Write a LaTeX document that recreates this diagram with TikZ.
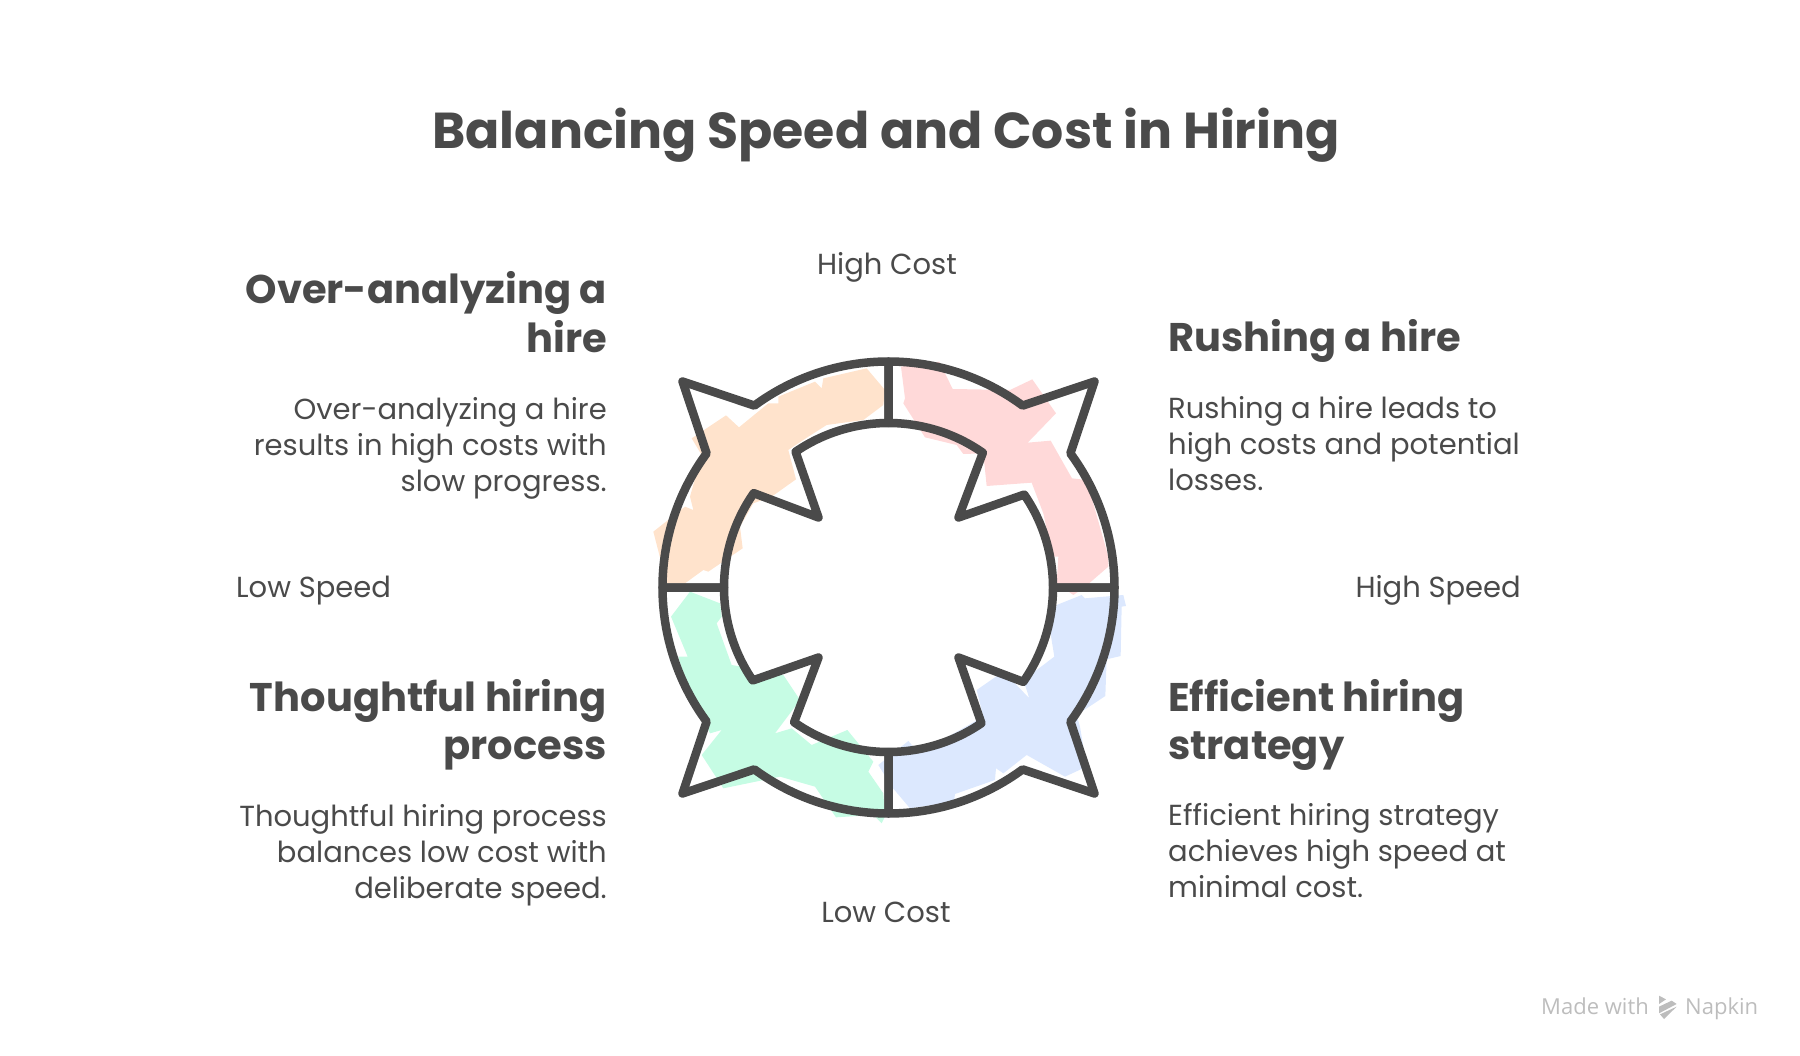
\documentclass[tikz,border=0pt]{standalone}
\usepackage{fontspec}
\setmainfont{Poppins}
\newfontfamily\markfont{Open Sans}
\definecolor{ringgrey}{HTML}{4A4A4A}
\definecolor{peachfill}{HTML}{FFE3CC}
\definecolor{pinkfill}{HTML}{FFD9D9}
\definecolor{bluefill}{HTML}{DCE8FE}
\definecolor{greenfill}{HTML}{C6FCE4}
\definecolor{markgrey}{HTML}{BDBDBD}
\tikzset{
  titletext/.style={inner sep=0pt, text=ringgrey, font=\fontsize{50.5}{56}\selectfont\bfseries},
  headleft/.style={inner sep=0pt, anchor=east, align=right, text=ringgrey, font=\fontsize{40}{48.5}\selectfont\bfseries},
  headright/.style={inner sep=0pt, anchor=west, align=left, text=ringgrey, font=\fontsize{40}{48.5}\selectfont\bfseries},
  bodyleft/.style={inner sep=0pt, anchor=east, align=right, text=ringgrey, font=\fontsize{29}{36}\selectfont},
  bodyright/.style={inner sep=0pt, anchor=west, align=left, text=ringgrey, font=\fontsize{29}{36}\selectfont},
  axistext/.style={inner sep=0pt, text=ringgrey, font=\fontsize{29}{36}\selectfont},
  marktext/.style={inner sep=0pt, anchor=base west, text=markgrey, font=\fontsize{22}{28}\markfont},
  ringline/.style={draw=ringgrey, line width=8.5pt, line join=round, line cap=round},
  zoomed/.style={shift={(640,-340)}, xscale=0.33333, yscale=-0.33333},
}
\begin{document}
\begin{tikzpicture}[x=1pt, y=1pt]
\useasboundingbox (0,0) rectangle (1800,-1056) ;

\begin{scope}[zoomed]
\fill[peachfill] (80,730) -- (40,575) -- (135,500) -- (160,510) -- (150,470) -- (185,345) -- (155,295) -- (258,226) -- (297,262) -- (385,190) -- (415,190) -- (415,170) -- (525,125) -- (545,145) -- (550,115) -- (680,85) -- (735,150) -- (730,195) -- (670,240) -- (560,255) -- (505,290) -- (445,330) -- (468,418) -- (395,470) -- (340,490) -- (300,560) -- (308,625) -- (205,695) -- (190,690) -- (135,730) -- cycle ;
\fill[pinkfill] (783,80) -- (898,65) -- (938,147) -- (1110,150) -- (1177,118) -- (1248,220) -- (1163,308) -- (1232,302) -- (1296,415) -- (1340,420) -- (1405,650) -- (1405,680) -- (1330,745) -- (1300,765) -- (1250,730) -- (1255,650) -- (1238,650) -- (1210,520) -- (1175,428) -- (1040,438) -- (1030,340) -- (970,342) -- (950,315) -- (855,292) -- (790,190) -- (795,175) -- cycle ;
\fill[bluefill] (1250,795) -- (1325,765) -- (1335,775) -- (1450,765) -- (1458,798) -- (1445,800) -- (1442,948) -- (1400,958) -- (1396,1068) -- (1310,1125) -- (1320,1160) -- (1340,1280) -- (1275,1310) -- (1160,1245) -- (1090,1300) -- (1068,1285) -- (1065,1320) -- (945,1362) -- (942,1385) -- (810,1405) -- (755,1340) -- (715,1275) -- (805,1203) -- (820,1220) -- (880,1215) -- (1030,1130) -- (1010,1050) -- (1075,1005) -- (1120,1025) -- (1168,1075) -- (1150,1020) -- (1243,950) -- (1230,870) -- cycle ;
\fill[greenfill] (150,755) -- (240,790) -- (245,830) -- (230,850) -- (275,975) -- (305,980) -- (340,1010) -- (430,1005) -- (480,1080) -- (405,1180) -- (455,1165) -- (515,1215) -- (622,1170) -- (700,1265) -- (685,1295) -- (730,1360) -- (735,1430) -- (725,1450) -- (700,1425) -- (588,1432) -- (525,1340) -- (420,1310) -- (250,1345) -- (185,1245) -- (245,1170) -- (210,1180) -- (140,1035) -- (115,950) -- (143,950) -- (93,830) -- cycle ;
\end{scope}

\foreach \turn in {0,90,180,270} {
\begin{scope}[shift={(888.5,-587.5)}, rotate=\turn]
\draw[ringline] (180:226) arc[start angle=180, end angle=143.6, radius=226pt] -- (-206,206) -- (126.4:226) arc[start angle=126.4, end angle=90, radius=226pt] -- (90:164.5) arc[start angle=90, end angle=124.4, radius=164.5pt] -- (-70,70) -- (145:164.5) arc[start angle=145, end angle=180, radius=164.5pt] -- cycle ;
\end{scope}
}

\node[titletext] (title) at (886,-135) {Balancing Speed and Cost in Hiring} ;

\node[headleft] (overhead) at (607,-312) {Over-analyzing a\\hire} ;
\node[bodyleft] (overbody) at (607,-448) {Over-analyzing a hire\\results in high costs with\\slow progress.} ;
\node[headright] (rushhead) at (1168,-341) {Rushing a hire} ;
\node[bodyright] (rushbody) at (1168,-444) {Rushing a hire leads to\\high costs and potential\\losses.} ;
\node[headleft] (thoughthead) at (607,-725) {Thoughtful hiring\\process} ;
\node[bodyleft] (thoughtbody) at (607,-855) {Thoughtful hiring process\\balances low cost with\\deliberate speed.} ;
\node[headright] (efficienthead) at (1168,-725) {Efficient hiring\\strategy} ;
\node[bodyright] (efficientbody) at (1168,-851) {Efficient hiring strategy\\achieves high speed at\\minimal cost.} ;

\node[axistext] (highcost) at (887,-267) {High Cost} ;
\node[axistext] (lowcost) at (886,-912) {Low Cost} ;
\node[axistext, anchor=west] (lowspeed) at (236,-591) {Low Speed} ;
\node[axistext, anchor=east] (highspeed) at (1521,-590) {High Speed} ;

\node[marktext] (madewith) at (1541,-1014) {Made with} ;
\node[marktext] (napkin) at (1685,-1014) {Napkin} ;
\begin{scope}[shift={(1500,-980)}, xscale=0.33333, yscale=-0.33333]
\fill[markgrey] (477,47) -- (498,58) -- (477,72) -- cycle ;
\fill[markgrey] (477,80) -- (515,62) -- (530,72) -- (477,100) -- cycle ;
\fill[markgrey] (480,103) -- (530,80) -- (492,117) -- cycle ;
\end{scope}
\end{tikzpicture}
\end{document}
